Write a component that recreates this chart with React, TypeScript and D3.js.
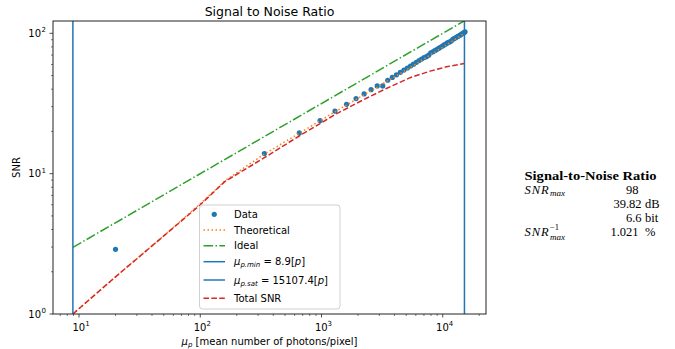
import React from "react";
import * as d3 from "d3";

const dataMu = [20, 338, 656, 974, 1292, 1610, 1928, 2246, 2564, 2882, 3200, 3518, 3836, 4154, 4472, 4790, 5108, 5426, 5744, 6062, 6380, 6698, 7016, 7334, 7652, 7970, 8288, 8606, 8924, 9242, 9560, 9878, 10196, 10514, 10832, 11150, 11468, 11786, 12104, 12422, 12740, 13058, 13376, 13694, 14012, 14330, 14648, 14966, 15284];
const dataSnr = [2.89, 13.9, 19.5, 23.9, 27.9, 31.2, 34.3, 37.0, 39.7, 42.2, 42.2, 46.3, 48.5, 50.6, 52.7, 54.7, 56.6, 58.5, 60.3, 62.1, 63.9, 65.5, 67.2, 68.2, 69.9, 72.6, 73.8, 75.2, 76.6, 78.0, 79.5, 80.9, 82.3, 83.6, 85.0, 86.3, 87.0, 88.4, 90.6, 91.7, 92.8, 94.0, 95.2, 96.4, 97.6, 98.8, 100.0, 101.1, 102.6];

const theoMu = [8.9, 20, 50, 100, 160, 338, 656, 1292, 2564, 5108, 10196, 15107];
const theoSnr = [1.0, 1.84, 3.6, 6.1, 8.9, 13.8, 19.4, 27.6, 39.0, 55.5, 80.5, 100];

const idealMu = [8.9, 15107];
const idealSnr = [2.98, 122.9];

const totalMu = [8.9, 20, 50, 100, 160, 338, 665, 1337, 2366, 3500, 5380, 8000, 11000, 15107];
const totalSnr = [1.0, 1.84, 3.6, 6.0, 8.8, 13.0, 18.7, 26.8, 34.6, 40.8, 48.3, 54.0, 58.0, 60.9];

const muMin = 8.9;
const muSat = 15107.4;

const xTicks = [10, 100, 1000, 10000];
const xTickExp = ["1", "2", "3", "4"];
const yTicks = [1, 10, 100];
const yTickExp = ["0", "1", "2"];

const legendLabels = ["Data", "Theoretical", "Ideal", "mumin", "musat", "Total SNR"];

const BLUE = "#1f77b4";
const ORANGE = "#ff7f0e";
const GREEN = "#2ca02c";
const RED = "#d62728";

const L = 53, R = 486, T = 21, B = 314;

export default function App() {
  const x = d3.scaleLog().domain([6.1, 22750]).range([L, R]);
  const y = d3.scaleLog().domain([1, 122.4]).range([B, T]);

  const line = d3.line<[number, number]>().x(d => x(d[0])).y(d => y(d[1]));
  const pts = (a: number[], b: number[]) => a.map((v, i) => [v, b[i]] as [number, number]);

  const xMinor: number[] = [];
  for (let e = 0; e <= 4; e++) for (let m = 2; m <= 9; m++) {
    const v = m * Math.pow(10, e);
    if (v >= 6.1 && v <= 22750) xMinor.push(v);
  }
  const yMinor: number[] = [];
  for (let e = 0; e <= 2; e++) for (let m = 2; m <= 9; m++) {
    const v = m * Math.pow(10, e);
    if (v >= 1 && v <= 122.4) yMinor.push(v);
  }

  const font = "DejaVu Sans, sans-serif";
  const serif = "Liberation Serif, serif";
  const rowY = [214.3, 230, 245.7, 261.7, 280, 298.3];
  const lx0 = 203.5, lx1 = 225, tx = 234;

  return (
    <svg width={675} height={349} style={{ position: "absolute", left: 0, top: 0 }}>
      <rect width={675} height={349} fill="white" />
      <defs>
        <clipPath id="plot"><rect x={L} y={T} width={R - L} height={B - T} /></clipPath>
      </defs>
      <text x={(L + R) / 2} y={16} textAnchor="middle" fontFamily={font} fontSize={12.5}>Signal to Noise Ratio</text>

      <g clipPath="url(#plot)">
        {dataMu.map((m, i) => (
          <circle key={i} cx={x(m)} cy={y(dataSnr[i])} r={2.6} fill={BLUE} />
        ))}
        <path d={line(pts(theoMu, theoSnr)) || ""} fill="none" stroke={ORANGE} strokeWidth={1.5} strokeDasharray="1.5,2.5" />
        <path d={line(pts(idealMu, idealSnr)) || ""} fill="none" stroke={GREEN} strokeWidth={1.5} strokeDasharray="9.6,2.4,1.5,2.4" />
        <line x1={x(muMin)} x2={x(muMin)} y1={T} y2={B} stroke={BLUE} strokeWidth={1.5} />
        <line x1={x(muSat)} x2={x(muSat)} y1={T} y2={B} stroke={BLUE} strokeWidth={1.5} />
        <path d={line(pts(totalMu, totalSnr)) || ""} fill="none" stroke={RED} strokeWidth={1.5} strokeDasharray="5.5,2.4" />
      </g>

      <rect x={L} y={T} width={R - L} height={B - T} fill="none" stroke="#222" strokeWidth={1} />

      {xTicks.map((t, i) => (
        <g key={"xt" + i}>
          <line x1={x(t)} x2={x(t)} y1={B} y2={B + 3.5} stroke="#222" strokeWidth={0.8} />
          <text x={x(t) + 2} y={330.5} textAnchor="middle" fontFamily={font} fontSize={10}>
            10<tspan dy={-4.5} fontSize={7}>{xTickExp[i]}</tspan>
          </text>
        </g>
      ))}
      {xMinor.map((t, i) => (
        <line key={"xm" + i} x1={x(t)} x2={x(t)} y1={B} y2={B + 2} stroke="#222" strokeWidth={0.6} />
      ))}
      {yTicks.map((t, i) => (
        <g key={"yt" + i}>
          <line x1={L - 3.5} x2={L} y1={y(t)} y2={y(t)} stroke="#222" strokeWidth={0.8} />
          <text x={41} y={y(t) + 3.5} textAnchor="end" fontFamily={font} fontSize={10}>10</text>
          <text x={41.5} y={y(t) - 1} fontFamily={font} fontSize={7}>{yTickExp[i]}</text>
        </g>
      ))}
      {yMinor.map((t, i) => (
        <line key={"ym" + i} x1={L - 2} x2={L} y1={y(t)} y2={y(t)} stroke="#222" strokeWidth={0.6} />
      ))}

      <text transform={`translate(20,${(T + B) / 2}) rotate(-90)`} textAnchor="middle" fontFamily={font} fontSize={10}>SNR</text>
      <text x={(L + R) / 2} y={345} textAnchor="middle" fontFamily={font} fontSize={10}>
        <tspan fontStyle="italic">μ</tspan><tspan fontSize={7} dy={1.5} fontStyle="italic">p</tspan><tspan dy={-1.5}> [mean number of photons/pixel]</tspan>
      </text>

      <g>
        <rect x={199.5} y={205} width={140.5} height={104} rx={3} fill="white" fillOpacity={0.85} stroke="#d0d0d0" strokeWidth={1} />
        <circle cx={(lx0 + lx1) / 2} cy={rowY[0]} r={2.6} fill={BLUE} />
        <line x1={lx0} x2={lx1} y1={rowY[1]} y2={rowY[1]} stroke={ORANGE} strokeWidth={1.5} strokeDasharray="1.5,2.5" />
        <line x1={lx0} x2={lx1} y1={rowY[2]} y2={rowY[2]} stroke={GREEN} strokeWidth={1.5} strokeDasharray="9.6,2.4,1.5,2.4" />
        <line x1={lx0} x2={lx1} y1={rowY[3]} y2={rowY[3]} stroke={BLUE} strokeWidth={1.5} />
        <line x1={lx0} x2={lx1} y1={rowY[4]} y2={rowY[4]} stroke={BLUE} strokeWidth={1.5} />
        <line x1={lx0} x2={lx1} y1={rowY[5]} y2={rowY[5]} stroke={RED} strokeWidth={1.5} strokeDasharray="5.5,2.4" />
        <text x={tx} y={rowY[0] + 3.6} fontFamily={font} fontSize={10}>{legendLabels[0]}</text>
        <text x={tx} y={rowY[1] + 3.6} fontFamily={font} fontSize={10}>{legendLabels[1]}</text>
        <text x={tx} y={rowY[2] + 3.6} fontFamily={font} fontSize={10}>{legendLabels[2]}</text>
        <text x={tx} y={rowY[3] + 3.6} fontFamily={font} fontSize={10}>
          <tspan fontStyle="italic">μ</tspan><tspan fontSize={7} dy={2} fontStyle="italic">p.min</tspan><tspan dy={-2}> = 8.9[</tspan><tspan fontStyle="italic">p</tspan><tspan>]</tspan>
        </text>
        <text x={tx} y={rowY[4] + 3.6} fontFamily={font} fontSize={10}>
          <tspan fontStyle="italic">μ</tspan><tspan fontSize={7} dy={2} fontStyle="italic">p.sat</tspan><tspan dy={-2}> = 15107.4[</tspan><tspan fontStyle="italic">p</tspan><tspan>]</tspan>
        </text>
        <text x={tx} y={rowY[5] + 3.6} fontFamily={font} fontSize={10}>{legendLabels[5]}</text>
      </g>

      <g fontFamily={serif} fontSize={12.5}>
        <text x={524.5} y={179.5} fontWeight="bold" fontSize={11.5} textLength={132} lengthAdjust="spacingAndGlyphs">Signal-to-Noise Ratio</text>
        <text x={524.5} y={194} fontStyle="italic" letterSpacing={1}>SNR</text>
        <text x={550} y={196} fontStyle="italic" fontSize={9}>max</text>
        <text x={638.5} y={194} textAnchor="end">98</text>
        <text x={641.5} y={207.5} textAnchor="end">39.82</text>
        <text x={645} y={207.5}>dB</text>
        <text x={641.5} y={221.5} textAnchor="end">6.6</text>
        <text x={645} y={221.5}>bit</text>
        <text x={524.5} y={236} fontStyle="italic" letterSpacing={1}>SNR</text>
        <text x={550} y={230} fontSize={8.5}>−1</text>
        <text x={550} y={239.5} fontStyle="italic" fontSize={9}>max</text>
        <text x={638.5} y={236} textAnchor="end">1.021</text>
        <text x={645} y={236}>%</text>
      </g>
    </svg>
  );
}
